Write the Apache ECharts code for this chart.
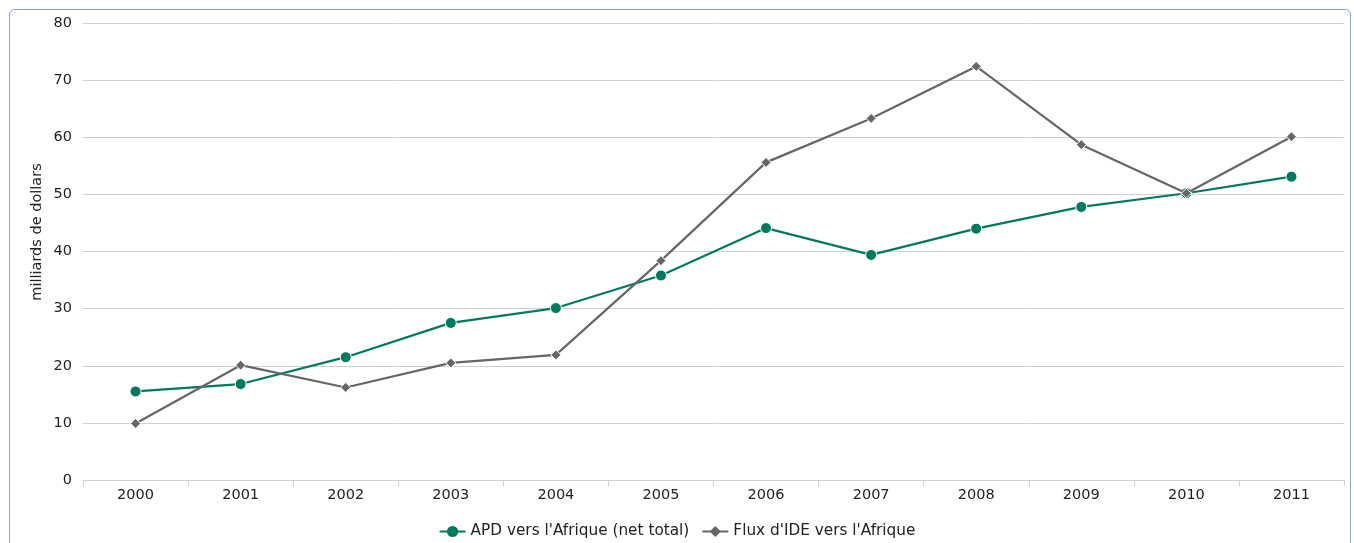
<!DOCTYPE html>
<html>
<head>
<meta charset="utf-8">
<script src="https://cdn.jsdelivr.net/npm/echarts@6/dist/echarts.min.js"></script>
<style>
html,body{margin:0;padding:0;background:#fff;}
#frame{position:absolute;left:9px;top:9px;width:1342px;height:560px;border:1px solid #86a3cc;border-radius:6px;box-sizing:border-box;}
#chart{position:absolute;left:0;top:0;width:1354px;height:543px;}
</style>
</head>
<body>
<div id="frame"></div>
<div id="chart"></div>
<script>
const years = ['2000','2001','2002','2003','2004','2005','2006','2007','2008','2009','2010','2011'];
const apd = [15.5, 16.8, 21.5, 27.5, 30.1, 35.8, 44.1, 39.4, 44.0, 47.8, 50.2, 53.1];
const fdi = [9.9, 20.1, 16.2, 20.5, 21.9, 38.4, 55.6, 63.3, 72.4, 58.7, 50.2, 60.1];
const seriesNames = ["APD vers l'Afrique (net total)", "Flux d'IDE vers l'Afrique"];
const yAxisName = 'milliards de dollars';

const chart = echarts.init(document.getElementById('chart'), null, {renderer:'canvas'});
const font = 'DejaVu Sans';
const fs = 14.5;
chart.setOption({
  animation:false,
  textStyle:{fontFamily:font},
  grid:{left:83, right:10, top:23, bottom:63},
  legend:{
    top:519, left:'center', itemGap:12, itemWidth:26, itemHeight:14,
    textStyle:{fontFamily:font, fontSize:15.3, color:'#222'},
    itemStyle:{borderWidth:0},
    data:seriesNames
  },
  graphic:[{
    type:'text', x:37, y:232, rotation:Math.PI/2,
    style:{text:yAxisName, fill:'#222', font:fs+'px "DejaVu Sans"', align:'center', verticalAlign:'middle'}
  }],
  xAxis:{
    type:'category', data:years, boundaryGap:true,
    axisLine:{lineStyle:{color:'#d0d0d0', width:1}},
    axisTick:{show:true, length:6, lineStyle:{color:'#d0d0d0'}},
    axisLabel:{color:'#222', fontSize:fs, margin:8, fontFamily:font}
  },
  yAxis:{
    type:'value', min:0, max:80, interval:10,
    axisLine:{show:false}, axisTick:{show:false},
    axisLabel:{color:'#222', fontSize:fs, margin:11, fontFamily:font},
    splitLine:{lineStyle:{color:'#d0d0d0', width:1}}
  },
  series:[
    {name:seriesNames[0], type:'line', data:apd, symbol:'circle', symbolSize:11,
     itemStyle:{color:'#007a5e', borderColor:'#fff', borderWidth:1},
     lineStyle:{color:'#007a5e', width:2.2}, z:2},
    {name:seriesNames[1], type:'line', data:fdi, symbol:'diamond', symbolSize:10,
     itemStyle:{color:'#666666', borderColor:'#fff', borderWidth:1},
     lineStyle:{color:'#666666', width:2.2}, z:3}
  ]
});
</script>
</body>
</html>
